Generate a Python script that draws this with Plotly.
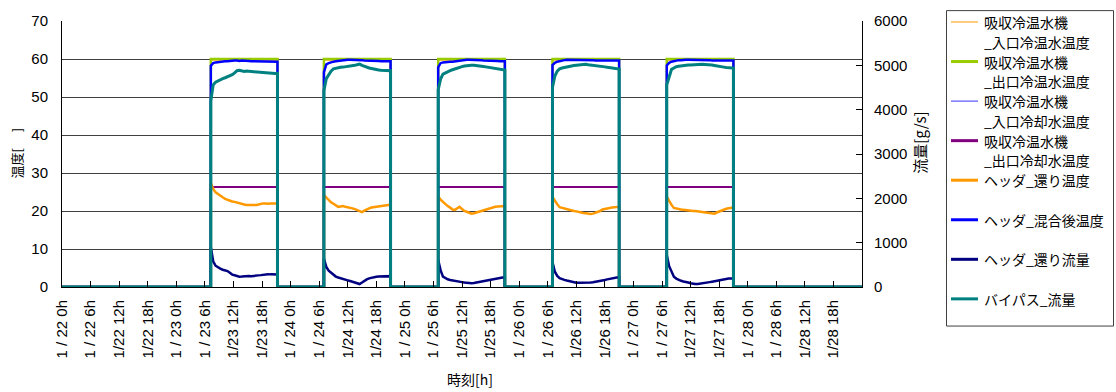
import pandas as pd
import plotly.graph_objects as go

# ---- operating periods (start time of each day's run, 30-minute samples) ----
run_starts = ["2010-01-23 07:15", "2010-01-24 07:00", "2010-01-25 07:00",
              "2010-01-26 07:00", "2010-01-27 07:00"]
axis_start = "2010-01-22 00:00"
axis_end = "2010-01-29 00:00"

# ---- temperature series [°C], left axis ----
outlet_chw_level = [60.0, 60.0, 60.0, 60.0, 60.0]      # 出口冷温水温度
inlet_chw_level = [59.7, 59.7, 59.7, 59.7, 59.7]       # 入口冷温水温度
inlet_cw_level = [26.3, 26.3, 26.3, 26.3, 26.3]        # 入口冷却水温度
outlet_cw_level = [26.3, 26.3, 26.3, 26.3, 26.3]       # 出口冷却水温度

header_return_temp = [
    [27.4, 25.8, 24.9, 24.4, 24.0, 23.6, 23.2, 22.9, 22.7, 22.5, 22.4, 22.2, 21.9, 21.8, 21.7,
     21.6, 21.6, 21.5, 21.6, 21.6, 21.7, 21.9, 22.0, 22.0, 21.9, 22.0, 22.0, 21.9, 22.0],
    [24.2, 23.5, 22.8, 22.3, 21.9, 21.4, 21.1, 21.2, 21.3, 21.1, 21.0, 20.9, 20.7, 20.5, 20.2,
     19.8, 19.7, 20.1, 20.5, 20.7, 20.9, 21.0, 21.2, 21.3, 21.4, 21.5, 21.5, 21.6, 21.6],
    [23.9, 23.0, 22.4, 21.8, 21.3, 20.9, 20.4, 20.3, 20.6, 21.1, 20.5, 20.0, 19.8, 19.5, 19.3,
     19.4, 19.6, 19.8, 19.9, 20.2, 20.5, 20.6, 20.8, 21.0, 21.1, 21.2, 21.2, 21.3, 21.3],
    [23.7, 22.6, 21.8, 21.0, 20.8, 20.6, 20.5, 20.3, 20.2, 20.0, 19.9, 19.7, 19.6, 19.5, 19.4,
     19.3, 19.2, 19.3, 19.5, 19.7, 20.0, 20.4, 20.6, 20.7, 20.8, 20.9, 21.0, 21.0, 21.1],
    [23.8, 22.6, 21.6, 20.8, 20.6, 20.5, 20.4, 20.3, 20.2, 20.2, 20.1, 20.0, 20.0, 19.9, 19.8,
     19.7, 19.6, 19.5, 19.4, 19.3, 19.3, 19.6, 19.9, 20.2, 20.4, 20.6, 20.7, 20.8, 20.9],
]

header_mixed_temp = [
    [58.2, 58.9, 59.1, 59.2, 59.3, 59.3, 59.4, 59.4, 59.5, 59.5, 59.6, 59.6, 59.5, 59.6, 59.6,
     59.5, 59.5, 59.4, 59.4, 59.4, 59.3, 59.3, 59.3, 59.3, 59.3, 59.3, 59.3, 59.3, 59.3],
    [56.5, 58.6, 58.9, 59.2, 59.3, 59.4, 59.5, 59.6, 59.7, 59.8, 59.8, 59.8, 59.8, 59.8, 59.7,
     59.7, 59.7, 59.6, 59.6, 59.6, 59.5, 59.5, 59.5, 59.5, 59.4, 59.4, 59.4, 59.4, 59.4],
    [57.8, 58.9, 59.1, 59.2, 59.3, 59.3, 59.3, 59.4, 59.5, 59.6, 59.7, 59.7, 59.8, 59.8, 59.8,
     59.8, 59.7, 59.7, 59.7, 59.6, 59.6, 59.6, 59.6, 59.5, 59.5, 59.5, 59.4, 59.4, 59.4],
    [58.4, 59.0, 59.3, 59.5, 59.6, 59.7, 59.8, 59.8, 59.8, 59.8, 59.8, 59.8, 59.8, 59.7, 59.7,
     59.7, 59.7, 59.7, 59.6, 59.6, 59.6, 59.6, 59.6, 59.6, 59.6, 59.6, 59.6, 59.6, 59.6],
    [58.3, 59.0, 59.3, 59.5, 59.6, 59.7, 59.7, 59.8, 59.8, 59.8, 59.8, 59.8, 59.8, 59.8, 59.7,
     59.7, 59.7, 59.7, 59.7, 59.6, 59.6, 59.6, 59.6, 59.6, 59.6, 59.6, 59.6, 59.6, 59.6],
]

# ---- flow series [g/s], right axis ----
header_return_flow = [
    [900, 580, 480, 440, 415, 390, 370, 360, 320, 280, 265, 250, 232, 235, 245,
     240, 248, 245, 246, 255, 262, 268, 278, 288, 290, 285, 282, 283, 283],
    [640, 453, 370, 320, 280, 235, 215, 195, 175, 160, 150, 135, 115, 100, 85,
     67, 100, 145, 171, 195, 210, 222, 230, 236, 240, 245, 245, 246, 245],
    [610, 380, 235, 200, 175, 158, 145, 135, 125, 119, 110, 100, 90, 85, 82,
     88, 100, 112, 120, 135, 148, 160, 170, 182, 195, 205, 214, 216, 216],
    [560, 345, 250, 200, 175, 160, 145, 130, 118, 108, 98, 96, 95, 95, 96,
     96, 100, 108, 115, 122, 135, 148, 160, 172, 185, 196, 206, 214, 216],
    [720, 470, 330, 230, 190, 160, 140, 125, 119, 100, 85, 72, 67, 70, 75,
     82, 90, 100, 110, 119, 130, 145, 160, 171, 178, 185, 190, 193, 193],
]

bypass_flow = [
    [4200, 4560, 4620, 4650, 4680, 4700, 4720, 4740, 4760, 4790, 4830, 4880, 4890, 4870, 4860,
     4870, 4865, 4860, 4855, 4850, 4840, 4835, 4830, 4825, 4820, 4815, 4820, 4815, 4818],
    [4430, 4700, 4790, 4870, 4920, 4935, 4950, 4955, 4960, 4965, 4970, 4980, 4990, 5000, 5015,
     5027, 5000, 4975, 4960, 4940, 4930, 4915, 4900, 4893, 4888, 4885, 4880, 4878, 4878],
    [4450, 4690, 4800, 4830, 4860, 4880, 4900, 4920, 4945, 4955, 4970, 4985, 4995, 5000, 5003,
     5004, 5000, 4990, 4985, 4975, 4965, 4955, 4945, 4935, 4925, 4915, 4905, 4895, 4893],
    [4500, 4760, 4870, 4920, 4940, 4955, 4970, 4975, 4985, 4995, 5000, 5005, 5015, 5027, 5025,
     5015, 5010, 5004, 5000, 4990, 4985, 4975, 4965, 4955, 4945, 4935, 4928, 4920, 4915],
    [4560, 4760, 4910, 4940, 4970, 4980, 4990, 4995, 5000, 5005, 5010, 5015, 5020, 5027, 5025,
     5022, 5020, 5019, 5015, 5005, 4995, 4990, 4980, 4970, 4960, 4952, 4945, 4940, 4937],
]

SAMPLES = len(bypass_flow[0])


def build(daily):
    """Join the daily runs into one trace that sits at zero while stopped."""
    xs, ys = [pd.Timestamp(axis_start)], [0]
    for start, vals in zip(run_starts, daily):
        t = list(pd.date_range(start, periods=len(vals), freq="30min"))
        xs += [t[0]] + t + [t[-1]]
        ys += [0] + list(vals) + [0]
    xs.append(pd.Timestamp(axis_end))
    ys.append(0)
    return xs, ys


def flat(levels):
    return [[lv] * SAMPLES for lv in levels]


# legend lines, data, axis, colour, width in chart, width in legend
series = [
    (["吸収冷温水機", "_入口冷温水温度"], flat(inlet_chw_level), "y", "#FF9900", 1.0, 1.0),
    (["吸収冷温水機", "_出口冷温水温度"], flat(outlet_chw_level), "y", "#99CC00", 2.5, 3.0),
    (["吸収冷温水機", "_入口冷却水温度"], flat(inlet_cw_level), "y", "#3333FF", 1.0, 1.0),
    (["吸収冷温水機", "_出口冷却水温度"], flat(outlet_cw_level), "y", "#800080", 2.0, 3.0),
    (["ヘッダ_還り温度"], header_return_temp, "y", "#FF9900", 2.5, 3.0),
    (["ヘッダ_混合後温度"], header_mixed_temp, "y", "#0000FF", 2.5, 3.0),
    (["ヘッダ_還り流量"], header_return_flow, "y2", "#000080", 2.5, 3.0),
    (["バイパス_流量"], bypass_flow, "y2", "#008080", 3.0, 3.0),
]

FONT = "Liberation Sans, Arial, Noto Sans CJK JP, sans-serif"
JFONT = "Noto Sans CJK JP, Liberation Sans, sans-serif"

fig = go.Figure()
for lines, data, axis, color, w, _ in series:
    xs, ys = build(data)
    fig.add_trace(go.Scatter(x=xs, y=ys, yaxis=axis, mode="lines", name="".join(lines),
                             line=dict(color=color, width=w), showlegend=False))

# x tick labels every 6 hours
tick_times = pd.date_range(axis_start, "2010-01-28 18:00", freq="6h")
tick_text = [
    (f"{t.month} / {t.day} {t.hour}h" if t.hour < 10 else f"{t.month}/{t.day} {t.hour}h")
    for t in tick_times
]

# plot area in pixels
L, R, T, B = 62, 862, 18, 287
W, H = 1116, 392


def px(x):
    return (x - L) / (R - L)


def py(y):
    return (B - y) / (B - T)


fig.update_layout(
    width=W, height=H,
    margin=dict(l=L, r=W - R, t=T, b=H - B),
    paper_bgcolor="white", plot_bgcolor="white",
    font=dict(family=FONT, size=14, color="#000000"),
    xaxis=dict(
        type="date",
        range=[axis_start, axis_end],
        tickvals=tick_times, ticktext=tick_text, tickangle=-90,
        ticks="inside", ticklen=6, tickcolor="#000000", tickwidth=1,
        showgrid=False, zeroline=False,
        showline=True, linecolor="#000000", linewidth=1,
        tickfont=dict(family=FONT, size=15),
        ticklabelstandoff=6,
    ),
    yaxis=dict(
        range=[0, 70], dtick=10, tick0=0,
        showgrid=True, gridcolor="#404040", gridwidth=1,
        zeroline=False, showline=True, linecolor="#000000", linewidth=1,
        ticks="", tickfont=dict(family=FONT, size=15),
        ticklabelstandoff=10,
    ),
    yaxis2=dict(
        range=[0, 6000], dtick=1000, tick0=0, overlaying="y", side="right",
        showgrid=False, zeroline=False, showline=True, linecolor="#000000", linewidth=1,
        ticks="inside", ticklen=6, tickcolor="#000000",
        tickfont=dict(family=FONT, size=15),
        ticklabelstandoff=8,
    ),
)


def label(text, x, y, size, angle=0, xanchor="center"):
    fig.add_annotation(text=text, x=px(x), y=py(y), xref="paper", yref="paper",
                       xanchor=xanchor, yanchor="middle", textangle=angle,
                       showarrow=False, font=dict(family=JFONT, size=size))


# axis titles
label("温度[　 ]", 17, 152, 13, angle=-90)
label("流量[g/s]", 920, 141, 15, angle=-90)
label("時刻[h]", 470, 380, 14)

# legend box
fig.add_shape(type="rect", xref="paper", yref="paper",
              x0=px(946.5), x1=px(1113.5), y0=py(7.5), y1=py(326.5),
              line=dict(color="#404040", width=1), fillcolor="white", layer="above")
for i, (lines, _, _, color, _, lw) in enumerate(series):
    yc = 19 + 40 * i
    fig.add_shape(type="line", xref="paper", yref="paper",
                  x0=px(951), x1=px(978), y0=py(yc), y1=py(yc),
                  line=dict(color=color, width=lw), layer="above")
    for k, line_text in enumerate(lines):
        label(line_text, 982, yc + 20 * k, 14, xanchor="left")

fig.write_html("out.html")
